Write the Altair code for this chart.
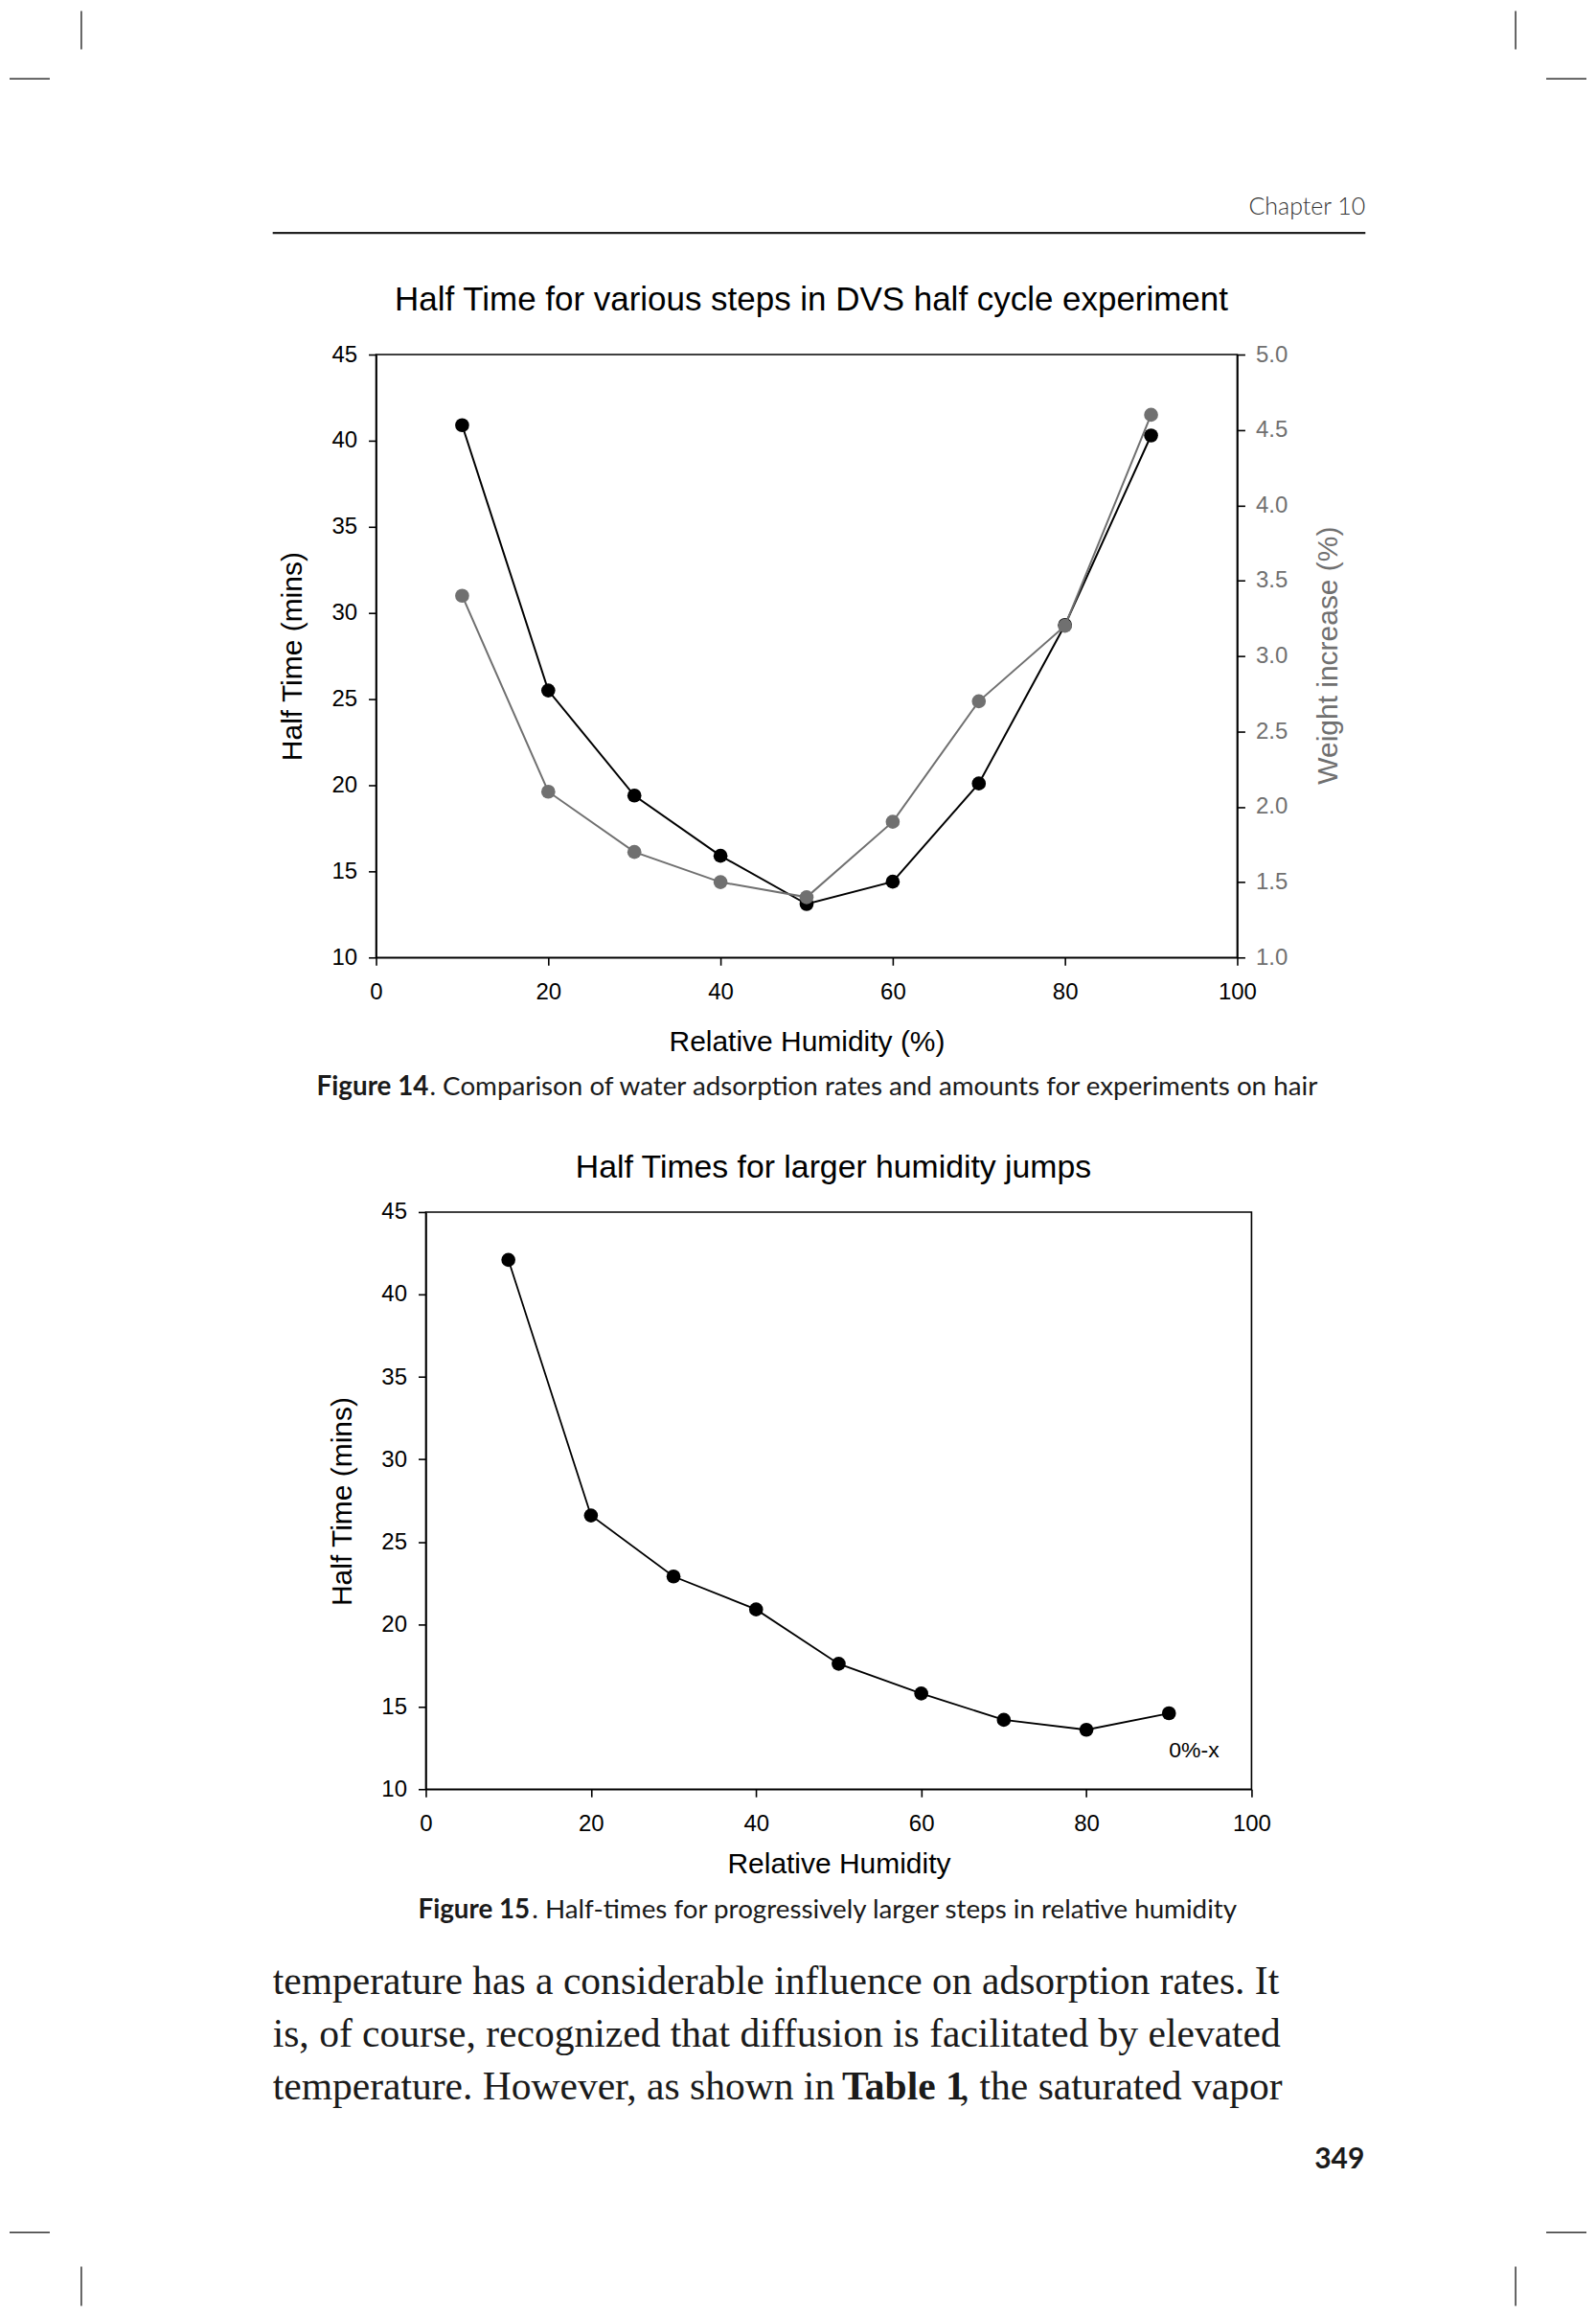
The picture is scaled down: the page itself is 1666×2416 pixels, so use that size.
import altair as alt
import pandas as pd

# ---------------- data read from the page ----------------
rh = [10, 20, 30, 40, 50, 60, 70, 80, 90]
half_time_fig14 = [40.9, 25.5, 19.4, 15.9, 13.1, 14.4, 20.1, 29.3, 40.3]
weight_increase_fig14 = [3.4, 2.1, 1.7, 1.5, 1.4, 1.9, 2.7, 3.2, 4.6]
half_time_fig15 = [42.1, 26.6, 22.9, 20.9, 17.6, 15.8, 14.2, 13.6, 14.6]

x_ticks = [0, 20, 40, 60, 80, 100]
left_ticks = [10, 15, 20, 25, 30, 35, 40, 45]
right_ticks = [1.0, 1.5, 2.0, 2.5, 3.0, 3.5, 4.0, 4.5, 5.0]

title14 = "Half Time for various steps in DVS half cycle experiment"
title15 = "Half Times for larger humidity jumps"
caption14 = ["Figure 14", ". Comparison of water adsorption rates and amounts for experiments on hair"]
caption15 = ["Figure 15", ". Half-times for progressively larger steps in relative humidity"]
body_lines = [
    "temperature has a considerable influence on adsorption rates. It",
    "is, of course, recognized that diffusion is facilitated by elevated",
]
body_line3 = ["temperature. However, as shown in ", "Table 1", ", the saturated vapor"]
header_text = "Chapter 10"
page_number = "349"
note15 = "0%-x"

# ---------------- styling ----------------
SANS = "Liberation Sans"
CAP = "Lato"
SERIF = "Liberation Serif"
GRAY = "#707070"
INK = "#1a1a1a"

df14 = pd.DataFrame({"rh": rh, "half": half_time_fig14, "weight": weight_increase_fig14})
df15 = pd.DataFrame({"rh": rh, "half": half_time_fig15})
one = pd.DataFrame({"k": [0]})


def txt(text, x, y, size, font, weight="normal", color="black", align="left"):
    return alt.Chart(one).mark_text(
        align=align, baseline="alphabetic", font=font, fontSize=size,
        fontWeight=weight, color=color
    ).encode(x=alt.value(x), y=alt.value(y), text=alt.value(text))


def hrule(x1, x2, y, w=1.5, color="#333333"):
    return alt.Chart(one).mark_rule(strokeWidth=w, color=color).encode(
        x=alt.value(x1), x2=alt.value(x2), y=alt.value(y))


def vrule(x, y1, y2, w=1.5, color="#333333"):
    return alt.Chart(one).mark_rule(strokeWidth=w, color=color).encode(
        x=alt.value(x), y=alt.value(y1), y2=alt.value(y2))


axis_common = dict(
    domainColor="black", domainWidth=1.6, tickColor="black", tickWidth=1.6,
    tickSize=8, labelFont=SANS, labelFontSize=24, labelColor="black",
    titleFont=SANS, titleFontSize=30, titleFontWeight="normal", titleColor="black",
    grid=False, labelOverlap=False, labelFlush=False,
)

PT = 215  # marker area (px^2)

# ---------------- Figure 14 (dual axis) ----------------
W1, H1 = 900, 630
x14 = alt.X("rh:Q", scale=alt.Scale(domain=[0, 100], nice=False, zero=False),
            axis=alt.Axis(values=x_ticks, title="Relative Humidity (%)", labelPadding=16,
                          titleX=450, titleY=97, titleAlign="center",
                          titleBaseline="alphabetic", **axis_common))
y_left = alt.Y("half:Q", scale=alt.Scale(domain=[10, 45], nice=False, zero=False),
               axis=alt.Axis(orient="left", values=left_ticks, title="Half Time (mins)",
                             labelPadding=12, titleAngle=270, titleX=-78, titleY=315,
                             titleAlign="center", titleBaseline="alphabetic", **axis_common))
axis_right = dict(axis_common)
axis_right.update(labelColor=GRAY, titleColor=GRAY)
y_right = alt.Y("weight:Q", scale=alt.Scale(domain=[1, 5], nice=False, zero=False),
                axis=alt.Axis(orient="right", values=right_ticks, format=".1f",
                              title="Weight increase (%)", labelPadding=11, titleAngle=270,
                              titleX=104, titleY=314, titleAlign="center",
                              titleBaseline="alphabetic", **axis_right))

base14 = alt.Chart(df14).encode(x=x14)
black = alt.layer(
    base14.mark_line(color="black", strokeWidth=2).encode(y=y_left),
    base14.mark_circle(color="black", size=PT, opacity=1).encode(y=y_left),
)
gray = alt.layer(
    base14.mark_line(color=GRAY, strokeWidth=2).encode(y=y_right),
    base14.mark_circle(color=GRAY, size=PT, opacity=1).encode(y=y_right),
)

CAPSZ = 27.8
decor14 = [
    # crop marks (top)
    vrule(-308, -359, -319), hrule(-383, -341, -288),
    vrule(1191, -359, -319), hrule(1223, 1265, -288),
    # running head
    txt(header_text, 1034, -146, 25, CAP, weight=300, color="#333333", align="right"),
    hrule(-108, 1034, -127, w=2.2, color="#222222"),
    # chart title
    txt(title14, 455, -46, 35, SANS, align="center"),
    # caption
    txt(caption14[0], -62, 774, CAPSZ, CAP, weight="bold", color=INK),
    txt(caption14[1], 56, 774, CAPSZ, CAP, color=INK),
]

panel14 = alt.layer(black, gray, *decor14).resolve_scale(y="independent").properties(
    width=W1, height=H1)

# ---------------- Figure 15 ----------------
W2, H2 = 863, 603
x15 = alt.X("rh:Q", scale=alt.Scale(domain=[0, 100], nice=False, zero=False),
            axis=alt.Axis(values=x_ticks, title="Relative Humidity", labelPadding=16,
                          titleX=431.5, titleY=87, titleAlign="center",
                          titleBaseline="alphabetic", **axis_common))
y15 = alt.Y("half:Q", scale=alt.Scale(domain=[10, 45], nice=False, zero=False),
            axis=alt.Axis(orient="left", values=left_ticks, title="Half Time (mins)",
                          labelPadding=12, titleAngle=270, titleX=-78, titleY=302,
                          titleAlign="center", titleBaseline="alphabetic", **axis_common))
base15 = alt.Chart(df15).encode(x=x15, y=y15)

BODY = 41.6
decor15 = [
    txt(title15, 426, -36, 33.8, SANS, align="center"),
    txt(note15, 803, 570, 23, SANS, align="center"),
    txt(caption15[0], -8, 738, CAPSZ, CAP, weight="bold", color=INK),
    txt(caption15[1], 111, 738, CAPSZ, CAP, color=INK),
    txt(body_lines[0], -160, 817, BODY, SERIF, color=INK),
    txt(body_lines[1], -160, 872, BODY, SERIF, color=INK),
    txt(body_line3[0], -160, 927, BODY, SERIF, color=INK),
    txt(body_line3[1], 435, 927, BODY, SERIF, weight="bold", color=INK),
    txt(body_line3[2], 558, 927, BODY, SERIF, color=INK),
    txt(page_number, 981, 999, 30, CAP, weight="bold", color=INK, align="right"),
    # crop marks (bottom)
    vrule(-360, 1102, 1143), hrule(-435, -393, 1066),
    vrule(1139, 1102, 1143), hrule(1171, 1213, 1066),
]

panel15 = alt.layer(
    base15.mark_line(color="black", strokeWidth=1.8),
    base15.mark_circle(color="black", size=PT, opacity=1),
    *decor15,
).properties(width=W2, height=H2)

spacer = alt.Chart(one).mark_text(text="").encode(
    x=alt.value(0), y=alt.value(0), text=alt.value(" ")
).properties(width=1, height=1, view=alt.ViewBackground(stroke="transparent"))

row2 = alt.hconcat(spacer, panel15, spacing=51, bounds="flush")

chart = alt.vconcat(panel14, row2, spacing=266, bounds="flush").properties(
    padding=0, background="white"
).configure_view(stroke="black", strokeWidth=1.6)

chart.save("out.html", embed_options={"renderer": "svg", "actions": False})
